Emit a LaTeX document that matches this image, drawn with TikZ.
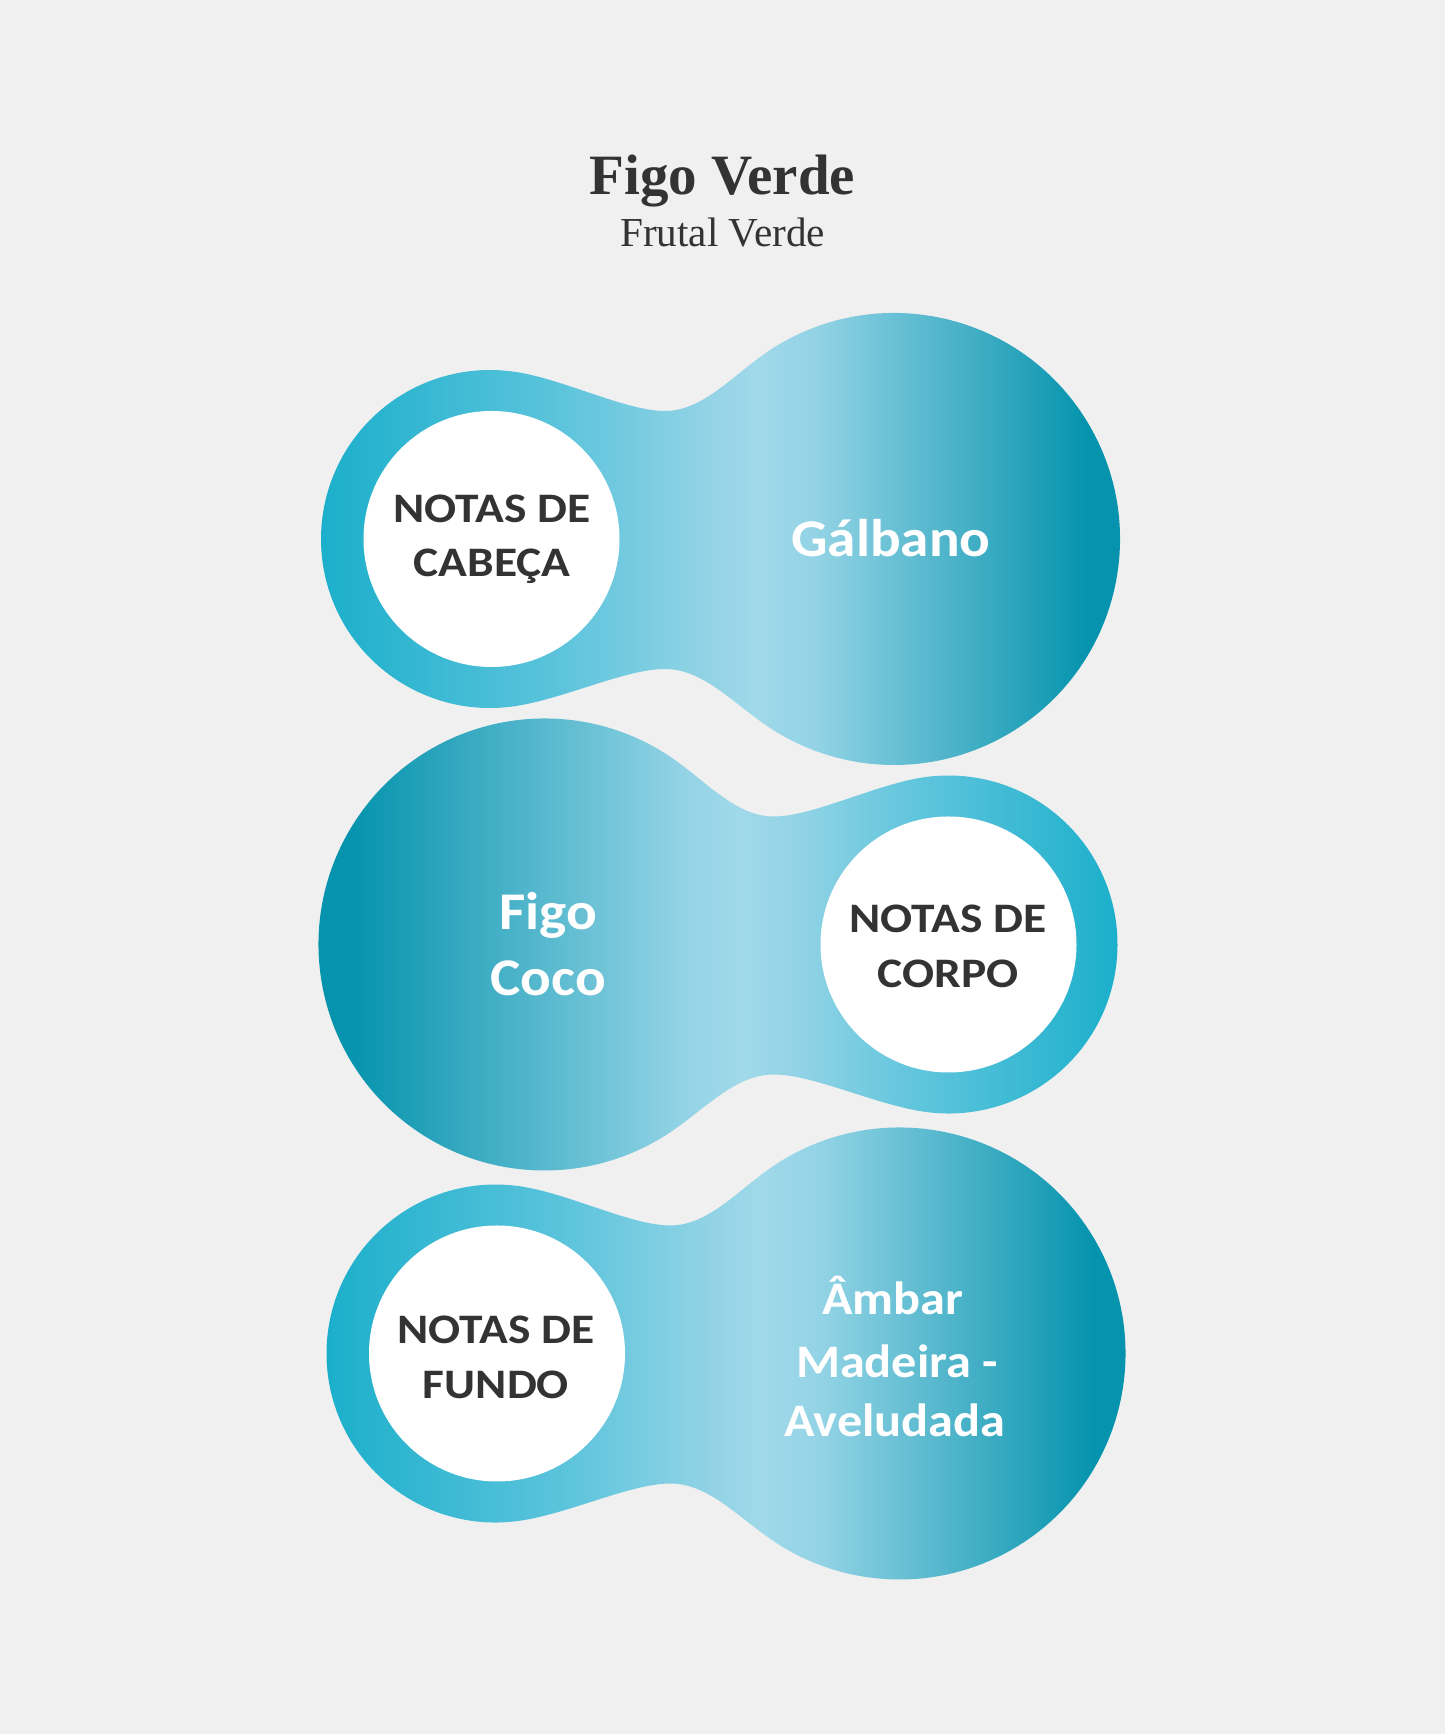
\documentclass[tikz,border=0pt]{standalone}
\usepackage{fontspec}
\setmainfont{Liberation Serif}
\newfontfamily\blobfont[FakeStretch=1.08]{Carlito}
\newfontfamily\notefont[FakeStretch=1.13]{Carlito}
\definecolor{bg}{HTML}{F0F0F0}
\definecolor{cyanA}{HTML}{1BAFCB}
\definecolor{midA}{HTML}{5CC4DC}
\definecolor{lightA}{HTML}{A0D9EA}
\definecolor{lightB}{HTML}{92D3E5}
\definecolor{darkA}{HTML}{0593AD}
\definecolor{ink}{HTML}{333333}
\pgfdeclarehorizontalshading{blobRshade}{100bp}{color(0bp)=(cyanA); color(25bp)=(cyanA); color(40bp)=(midA); color(49bp)=(lightB); color(52.3bp)=(lightA); color(56bp)=(lightB); color(73bp)=(darkA); color(100bp)=(darkA)}
\pgfdeclarehorizontalshading{blobLshade}{100bp}{color(0bp)=(darkA); color(27bp)=(darkA); color(47.7bp)=(lightB); color(51.4bp)=(lightA); color(55bp)=(lightB); color(63bp)=(midA); color(75bp)=(cyanA); color(100bp)=(cyanA)}
% small circle on the left, big circle on the right
\newcommand{\blobR}[2]{%
  \begin{scope}[shift={(#1,#2)}]
    \begin{scope}
      \clip (23.52,167.36) .. controls (73,160.4) and (135,128) .. (175,128)
        .. controls (215,128) and (246.1,167.8) .. (284.24,191.66)
        arc[start angle=122,end angle=-122,radius=226]
        .. controls (246.1,-167.8) and (215,-130) .. (175,-130)
        .. controls (135,-130) and (73,-160.4) .. (23.52,-167.36)
        arc[start angle=-82,end angle=-278,radius=169] -- cycle;
      \shade[shading=blobRshade] (-170,-230) rectangle (631,230);
    \end{scope}
    \fill[white] (1.5,0) circle[radius=128];
  \end{scope}}
% small circle on the right, big circle on the left
\newcommand{\blobL}[2]{%
  \begin{scope}[shift={(#1,#2)}]
    \begin{scope}
      \clip (-23.52,167.36) .. controls (-73,160.4) and (-135,128) .. (-175,128)
        .. controls (-215,128) and (-246.1,167.8) .. (-284.24,191.66)
        arc[start angle=58,end angle=302,radius=226]
        .. controls (-246.1,-167.8) and (-215,-130) .. (-175,-130)
        .. controls (-135,-130) and (-73,-160.4) .. (-23.52,-167.36)
        arc[start angle=-98,end angle=98,radius=169] -- cycle;
      \shade[shading=blobLshade] (-631,-230) rectangle (170,230);
    \end{scope}
    \fill[white] (0,0) circle[radius=128];
  \end{scope}}
\tikzset{
  titletext/.style={font=\fontsize{28.5}{34}\selectfont\bfseries, text=ink, inner sep=0pt, anchor=base},
  subtext/.style={font=\fontsize{20.6}{25}\selectfont, text=ink, inner sep=0pt, anchor=base},
  notetext/.style={font=\notefont\bfseries\fontsize{21}{25}\selectfont, text=ink, inner sep=0pt, anchor=base},
  ingrbig/.style={font=\blobfont\bfseries\fontsize{26.5}{31}\selectfont, text=white, inner sep=0pt, anchor=base},
  ingrsmall/.style={font=\blobfont\bfseries\fontsize{23.3}{28}\selectfont, text=white, inner sep=0pt, anchor=base},
}
\begin{document}
\begin{tikzpicture}[x=0.5pt,y=0.5pt]
  \fill[bg] (0,0) rectangle (1445,1734);
  \useasboundingbox (0,0) rectangle (1445,1734);
  % title
  \node[titletext] (title) at (722.5,1539) {Figo Verde};
  \node[subtext] (subtitle) at (722.5,1487.3) {Frutal Verde};
  % shapes
  \blobR{490}{1195}
  \blobL{948.5}{789.5}
  \blobR{495.5}{380.5}
  % shape 1 texts
  \node[notetext] (top1) at (492,1211.5) {NOTAS DE};
  \node[notetext] (top2) at (492,1157) {CABEÇA};
  \node[ingrbig] (galbano) at (891,1177) {Gálbano};
  % shape 2 texts
  \node[ingrbig] (figo) at (548,804) {Figo};
  \node[ingrbig] (coco) at (548,738) {Coco};
  \node[notetext] (mid1) at (948,801.2) {NOTAS DE};
  \node[notetext] (mid2) at (948,746.4) {CORPO};
  % shape 3 texts
  \node[notetext] (base1) at (496,390.7) {NOTAS DE};
  \node[notetext] (base2) at (496,335.7) {FUNDO};
  \node[ingrsmall] (ambar) at (893,419.5) {Âmbar};
  \node[ingrsmall] (madeira) at (897,356.5) {Madeira -};
  \node[ingrsmall] (aveludada) at (895,297) {Aveludada};
\end{tikzpicture}
\end{document}
